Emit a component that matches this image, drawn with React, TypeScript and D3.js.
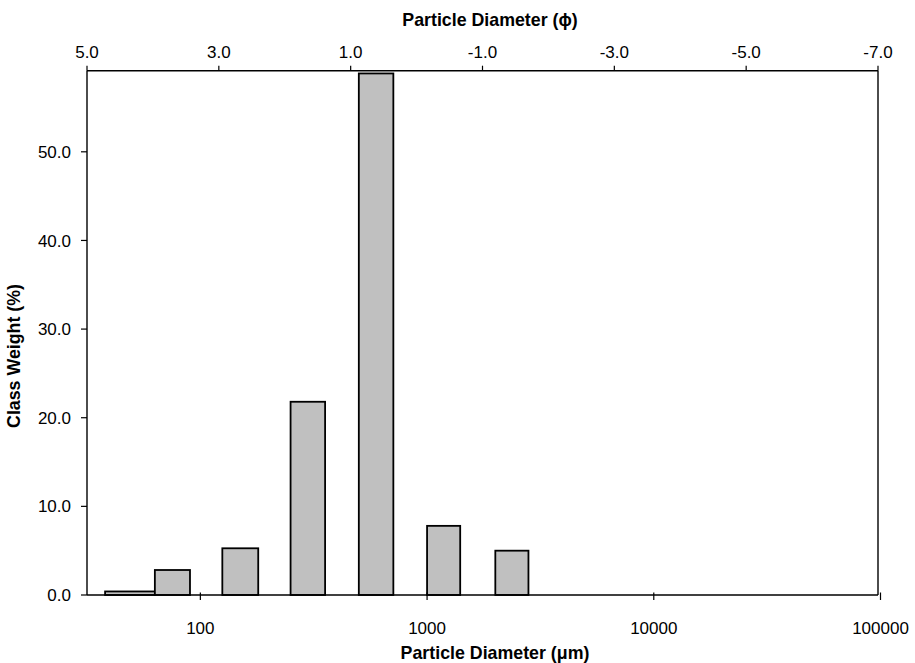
import React from "react";
import * as d3 from "d3";

// Sieve classes (µm) and class weights (%)
const binLower = [38, 63, 125, 250, 500, 1000, 2000];
const binUpper = [63, 90, 180, 355, 710, 1400, 2800];
const classWeight = [0.4, 2.82, 5.27, 21.8, 58.84, 7.8, 5.0];

const yTicks = [0, 10, 20, 30, 40, 50];
const umTicks = [100, 1000, 10000, 100000];
const phiTicks = [5, 3, 1, -1, -3, -5, -7];

const W = 915;
const H = 663;
const left = 87;
const right = 878;
const top = 70.7;
const bottom = 595;
const font = "'Liberation Sans', Arial, sans-serif";
const fs = 17;
const tfs = 17.8;

export default function App() {
  const x = d3.scaleLog().domain([Math.pow(10, 1.5), 100000]).range([left, 880.5]);
  const phi = d3.scaleLinear().domain([5, -7]).range([left, right]);
  const y = d3.scaleLinear().domain([0, 59.15]).range([bottom, top]);
  const bars = binLower.map((lo, i) => ({ lo, hi: binUpper[i], v: classWeight[i] }));

  return (
    <svg
      width={W}
      height={H}
      style={{ position: "absolute", left: 0, top: 0, background: "#fff" }}
      fontFamily={font}
    >
      <rect x={0} y={0} width={W} height={H} fill="#fff" />
      {bars.map((b, i) => (
        <rect
          key={i}
          x={x(b.lo)}
          y={y(b.v)}
          width={x(b.hi) - x(b.lo)}
          height={y(0) - y(b.v)}
          fill="#c0c0c0"
          stroke="#000"
          strokeWidth={1.8}
        />
      ))}
      {/* frame */}
      <line x1={left} x2={left} y1={top} y2={bottom} stroke="#000" strokeWidth={1.4} />
      <line x1={right} x2={right} y1={top} y2={bottom} stroke="#000" strokeWidth={1.4} />
      <line x1={left} x2={right} y1={top} y2={top} stroke="#000" strokeWidth={1.4} />
      <line x1={left} x2={right} y1={bottom} y2={bottom} stroke="#000" strokeWidth={1.4} />

      {/* y axis */}
      {yTicks.map((t) => (
        <g key={t}>
          <line x1={left - 6} x2={left} y1={y(t)} y2={y(t)} stroke="#000" strokeWidth={1.2} />
          <text x={71} y={y(t)} dy="0.36em" textAnchor="end" fontSize={fs} fill="#000">
            {t.toFixed(1)}
          </text>
        </g>
      ))}
      <text
        transform={`translate(20,356) rotate(-90)`}
        textAnchor="middle"
        fontSize={tfs}
        fontWeight="bold"
        fill="#000"
      >
        Class Weight (%)
      </text>

      {/* bottom axis */}
      {umTicks.map((t) => (
        <g key={t}>
          <line x1={x(t)} x2={x(t)} y1={bottom - 2.5} y2={bottom + 5} stroke="#000" strokeWidth={1.2} />
          <text x={x(t)} y={634} textAnchor="middle" fontSize={fs} fill="#000">
            {String(t)}
          </text>
        </g>
      ))}
      <text x={495} y={659} textAnchor="middle" fontSize={tfs} fontWeight="bold" fill="#000">
        Particle Diameter (μm)
      </text>

      {/* top axis */}
      {phiTicks.map((t) => (
        <g key={t}>
          <line x1={phi(t)} x2={phi(t)} y1={top - 5} y2={top} stroke="#000" strokeWidth={1.2} />
          <text x={phi(t)} y={58} textAnchor="middle" fontSize={fs} fill="#000">
            {t.toFixed(1)}
          </text>
        </g>
      ))}
      <text x={490} y={26} textAnchor="middle" fontSize={tfs} fontWeight="bold" fill="#000">
        Particle Diameter (ϕ)
      </text>
    </svg>
  );
}
